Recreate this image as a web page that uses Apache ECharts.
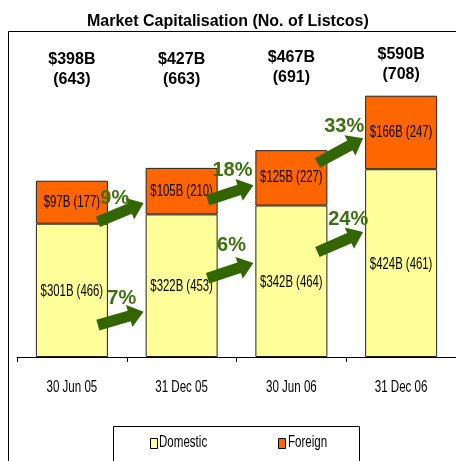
<!DOCTYPE html>
<html>
<head>
<meta charset="utf-8">
<script src="https://cdn.jsdelivr.net/npm/echarts@6/dist/echarts.min.js"></script>
<style>
  html, body { margin: 0; padding: 0; background: #fff; }
  #chart { width: 456px; height: 461px; }
</style>
</head>
<body>
<div id="chart"></div>
<script>
const categories = ['30 Jun 05', '31 Dec 05', '30 Jun 06', '31 Dec 06'];
const domestic = [301, 322, 342, 424];
const domesticCount = [466, 453, 464, 461];
const foreign = [97, 105, 125, 166];
const foreignCount = [177, 210, 227, 247];
const totalLabel = ['$398B', '$427B', '$467B', '$590B'];
const totalCount = [643, 663, 691, 708];
// growth arrows: from category index, start value, end value, label
const arrowFrom = [0, 0, 1, 1, 2, 2];
const arrowStartVal = [305, 72, 354, 178, 438, 237];
const arrowEndVal = [348, 102, 388, 212, 494, 282];
const arrowText = ['9%', '7%', '18%', '6%', '33%', '24%'];

const chartDom = document.getElementById('chart');
const myChart = echarts.init(chartDom);
const green = '#336600';

let option = {
  animation: false,
  title: {
    text: 'Market Capitalisation (No. of Listcos)',
    left: 82,
    top: 9,
    textStyle: { fontFamily: 'Liberation Sans, Arial', fontWeight: 'bold', fontSize: 16, color: '#000' }
  },
  grid: { left: 17, top: 47, width: 440, bottom: 104 },
  legend: [
    {
      data: ['Domestic'], left: 150, top: 438, padding: 0, itemWidth: 7, itemHeight: 10, icon: 'rect',
      itemStyle: { borderColor: '#000', borderWidth: 1 },
      textStyle: { color: 'transparent', fontSize: 10 }
    },
    {
      data: ['Foreign'], left: 278, top: 438, padding: 0, itemWidth: 7, itemHeight: 10, icon: 'rect',
      itemStyle: { borderColor: '#000', borderWidth: 1 },
      textStyle: { color: 'transparent', fontSize: 10 }
    }
  ],
  xAxis: {
    type: 'category',
    data: categories,
    axisLine: { lineStyle: { color: '#000', width: 1 } },
    axisTick: { show: true, length: 5, lineStyle: { color: '#000' } },
    axisLabel: { show: false }
  },
  yAxis: {
    type: 'value',
    min: 0,
    max: 700,
    show: false
  },
  series: [
    {
      name: 'Domestic',
      type: 'bar',
      stack: 'cap',
      barWidth: 72,
      data: domestic,
      itemStyle: { color: '#FFFF99', borderColor: '#222', borderWidth: 1 }
    },
    {
      name: 'Foreign',
      type: 'bar',
      stack: 'cap',
      barWidth: 72,
      data: foreign,
      itemStyle: { color: '#FF6600', borderColor: '#222', borderWidth: 1 }
    }
  ]
};
myChart.setOption(option);

function arrowPoints(tx, ty, px, py) {
  const len = Math.hypot(px - tx, py - ty);
  const dx = (px - tx) / len, dy = (py - ty) / len;
  const nx = -dy, ny = dx;
  const h = 15, s = 5.5, hw = 11.5;
  const bx = px - dx * h, by = py - dy * h;
  return [
    [tx + nx * s, ty + ny * s],
    [bx + nx * s, by + ny * s],
    [bx + nx * hw, by + ny * hw],
    [px, py],
    [bx - nx * hw, by - ny * hw],
    [bx - nx * s, by - ny * s],
    [tx - nx * s, ty - ny * s]
  ];
}

// no narrow font installed, so squeeze regular text horizontally
function narrowText(x, y, text, size, squeeze, align) {
  return {
    type: 'text',
    z: 50,
    x: x,
    y: y,
    scaleX: squeeze,
    style: {
      text: text,
      align: align || 'center',
      verticalAlign: 'middle',
      font: size + 'px "Liberation Sans", Arial, sans-serif',
      fill: '#000'
    }
  };
}

const graphics = [
  {
    type: 'rect',
    z: -1,
    shape: { x: 8.5, y: 31.5, width: 470, height: 460 },
    style: { fill: 'none', stroke: '#000', lineWidth: 1 }
  },
  {
    type: 'rect',
    shape: { x: 113.5, y: 426.5, width: 246, height: 60 },
    style: { fill: 'none', stroke: '#000', lineWidth: 1 }
  },
  narrowText(159, 442, 'Domestic', 17, 0.68, 'left'),
  narrowText(288, 442, 'Foreign', 17, 0.68, 'left')
];

const totalY = [70, 70, 68, 65];
categories.forEach(function (cat, i) {
  const x = myChart.convertToPixel({ xAxisIndex: 0 }, cat);
  graphics.push({
    type: 'text',
    x: x,
    y: totalY[i],
    style: {
      text: totalLabel[i] + '\n(' + totalCount[i] + ')',
      align: 'center',
      verticalAlign: 'middle',
      lineHeight: 20,
      font: 'bold 16px "Liberation Sans", Arial',
      fill: '#000'
    }
  });
  // category label under the axis
  graphics.push(narrowText(x, 387, cat, 17, 0.68));
  // value labels inside the stacked segments
  const yd = myChart.convertToPixel({ yAxisIndex: 0 }, domestic[i] / 2);
  const yf = myChart.convertToPixel({ yAxisIndex: 0 }, domestic[i] + foreign[i] / 2);
  graphics.push(narrowText(x, yd + 1, '$' + domestic[i] + 'B (' + domesticCount[i] + ')', 16, 0.71));
  graphics.push(narrowText(x, yf, '$' + foreign[i] + 'B (' + foreignCount[i] + ')', 16, 0.71));
});

const labelShift = [[-6, -14], [1, -20], [2, -22], [1, -25], [4, -24], [8, -23]];
arrowText.forEach(function (txt, k) {
  const i = arrowFrom[k];
  const tx = myChart.convertToPixel({ xAxisIndex: 0 }, categories[i]) + 26;
  const px = myChart.convertToPixel({ xAxisIndex: 0 }, categories[i + 1]) - 38;
  const ty = myChart.convertToPixel({ yAxisIndex: 0 }, arrowStartVal[k]);
  const py = myChart.convertToPixel({ yAxisIndex: 0 }, arrowEndVal[k]);
  graphics.push({
    type: 'polygon',
    z: 100,
    shape: { points: arrowPoints(tx, ty, px, py) },
    style: { fill: green }
  });
  graphics.push({
    type: 'text',
    z: 101,
    x: (tx + px) / 2 + labelShift[k][0],
    y: (ty + py) / 2 + labelShift[k][1],
    style: {
      text: txt,
      align: 'center',
      verticalAlign: 'middle',
      font: 'bold 20px "Liberation Sans", Arial',
      fill: '#3f7010'
    }
  });
});

myChart.setOption({ graphic: graphics });
</script>
</body>
</html>
